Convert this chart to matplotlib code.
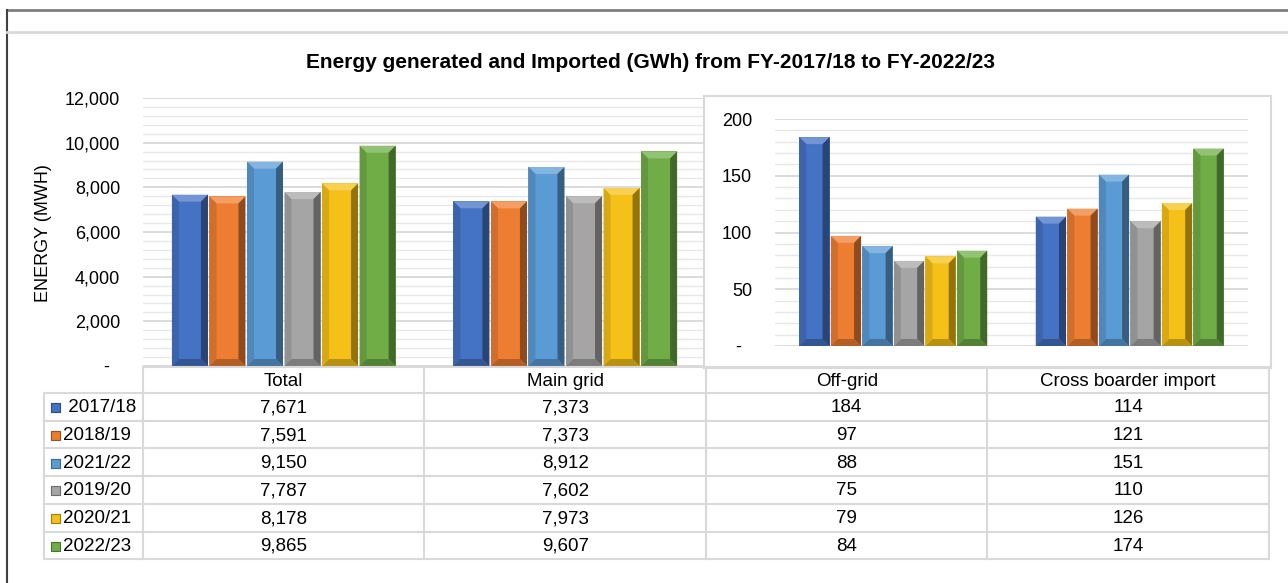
import matplotlib.pyplot as plt
import numpy as np
from matplotlib.colors import to_rgb
from matplotlib.patches import Polygon, Rectangle
from matplotlib.ticker import FuncFormatter, MultipleLocator

plt.rcParams['font.family'] = ['Liberation Sans', 'DejaVu Sans']

# data (bar order = table row order)
years = [' 2017/18', '2018/19', '2021/22', '2019/20', '2020/21', '2022/23']
colors = ['#4472C4', '#ED7D31', '#5B9BD5', '#A5A5A5', '#F5C018', '#70AD47']
categories = ['Total', 'Main grid', 'Off-grid', 'Cross boarder import']
total = [7671, 7591, 9150, 7787, 8178, 9865]
main_grid = [7373, 7373, 8912, 7602, 7973, 9607]
off_grid = [184, 97, 88, 75, 79, 84]
cross_border = [114, 121, 151, 110, 126, 174]

W, H = 1288, 583
FS = 13


def px_box(x0, y_top, x1, y_bot):
  return [x0 / W, 1 - y_bot / H, (x1 - x0) / W, (y_bot - y_top) / H]


def shade(c, f):
  r = np.array(to_rgb(c))
  return tuple(r + (1 - r) * f) if f > 0 else tuple(r * (1 + f))


def bevel_bars(ax, bars, color, px=7):
  # fake Excel "bevel" look: light top chamfer, dark right/bottom edges
  inv = ax.transData.inverted()
  d = inv.transform((px, px)) - inv.transform((0, 0))
  bx, by = abs(d[0]), abs(d[1])
  for b in bars:
    x0, x1 = b.get_x(), b.get_x() + b.get_width()
    y0, y1 = 0, b.get_height()
    faces = [
      ([(x0, y1), (x1, y1), (x1 - bx, y1 - by), (x0 + bx, y1 - by)], shade(color, 0.25)),
      ([(x1, y1), (x1, y0), (x1 - bx, y0 + by), (x1 - bx, y1 - by)], shade(color, -0.4)),
      ([(x0, y0), (x1, y0), (x1 - bx, y0 + by), (x0 + bx, y0 + by)], shade(color, -0.25)),
      ([(x0, y0), (x0, y1), (x0 + bx, y1 - by), (x0 + bx, y0 + by)], shade(color, -0.12)),
    ]
    for pts, fc in faces:
      ax.add_patch(Polygon(pts, closed=True, facecolor=fc, edgecolor='none', zorder=3))


def draw_group(ax, series, ymax, major, minor):
  n = len(years)
  width = 0.8 / n
  x = np.arange(len(series))
  ax.set_xlim(-0.5, len(series) - 0.5)
  ax.set_ylim(0, ymax)
  ax.yaxis.set_major_locator(MultipleLocator(major))
  ax.yaxis.set_minor_locator(MultipleLocator(minor))
  ax.yaxis.set_major_formatter(FuncFormatter(lambda v, _: '-  ' if v == 0 else f'{v:,.0f}'))
  ax.grid(which='major', axis='y', color='#d9d9d9', lw=1.3, zorder=0)
  ax.grid(which='minor', axis='y', color='#e8e8e8', lw=1.0, zorder=0)
  ax.set_axisbelow(True)
  ax.set_xticks([])
  ax.tick_params(axis='y', which='both', length=0, pad=16.5, labelsize=FS)
  for s in ax.spines.values():
    s.set_visible(False)
  ax.patch.set_alpha(0)
  for i, c in enumerate(colors):
    vals = [s[i] for s in series]
    bars = ax.bar(x - 0.4 + width * (i + 0.5), vals, width * 0.96, color=c, zorder=2)
    bevel_bars(ax, bars, c)


fig = plt.figure(figsize=(W / 100, H / 100), dpi=100)

ax = fig.add_axes(px_box(143, 98, 706, 366))
ax.set_zorder(1)
draw_group(ax, [total, main_grid], 12000, 2000, 400)

box = fig.add_axes(px_box(704, 96, 1271, 368))
box.set_zorder(2)
box.set_xticks([])
box.set_yticks([])
for s in box.spines.values():
  s.set_color('#d9d9d9')
  s.set_linewidth(1.5)

ins = fig.add_axes(px_box(775, 119, 1248, 346))
ins.set_zorder(3)
draw_group(ins, [off_grid, cross_border], 200, 50, 10)

fig.text(651 / W, 1 - 62 / H, 'Energy generated and Imported (GWh) from FY-2017/18 to FY-2022/23',
         ha='center', va='center', fontsize=15, fontweight='bold')
fig.text(43 / W, 1 - 233 / H, 'ENERGY (MWH)', rotation=90, ha='center', va='center', fontsize=FS)

# frame + data table drawn in pixel coordinates
tab = fig.add_axes([0, 0, 1, 1])
tab.set_zorder(5)
tab.set_xlim(0, W)
tab.set_ylim(H, 0)
tab.axis('off')

tab.plot([7, W], [10, 10], color='#7f7f7f', lw=2)
tab.plot([7, 7], [10, H], color='#404040', lw=1.5)
tab.plot([7, W], [32, 32], color='#d9d9d9', lw=2)

line_c = '#d9d9d9'
label_left, col_left, col_w = 44, 143, 281.5
head_top, row_top, row_h = 367, 393, 27.7
col_edges = [col_left + k * col_w for k in range(len(categories) + 1)]
row_edges = [row_top + k * row_h for k in range(len(years) + 1)]
bottom = row_edges[-1]

tab.plot([col_left, col_edges[-1]], [head_top, head_top], color=line_c, lw=1.5)
for y in row_edges:
  tab.plot([label_left, col_edges[-1]], [y, y], color=line_c, lw=1.5)
tab.plot([label_left, label_left], [row_top, bottom], color=line_c, lw=1.5)
for x in col_edges:
  tab.plot([x, x], [head_top, bottom], color=line_c, lw=1.5)

TFS = 13.5
for k, name in enumerate(categories):
  tab.text(col_left + (k + 0.5) * col_w, (head_top + row_top) / 2 + 1, name,
           ha='center', va='center', fontsize=TFS)

columns = [total, main_grid, off_grid, cross_border]
for i, (yr, c) in enumerate(zip(years, colors)):
  yc = row_top + (i + 0.5) * row_h + 1
  tab.add_patch(Rectangle((51, yc - 4.5), 9, 9, facecolor=c, edgecolor=shade(c, -0.35), lw=0.8))
  tab.text(63, yc, yr, ha='left', va='center', fontsize=TFS)
  for k, col in enumerate(columns):
    tab.text(col_left + (k + 0.5) * col_w, yc, f'{col[i]:,}', ha='center', va='center', fontsize=TFS)

fig.savefig('out.png', dpi=100)
